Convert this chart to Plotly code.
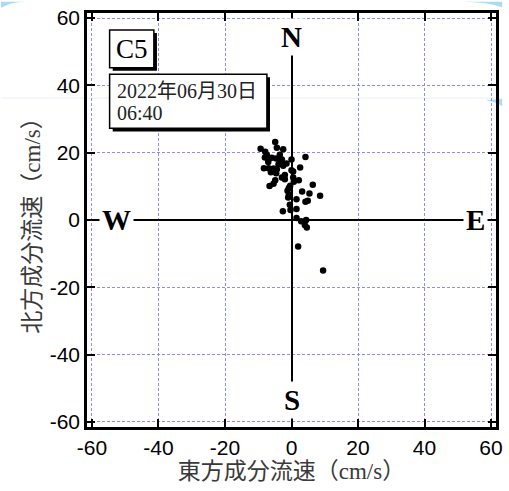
import plotly.graph_objects as go

# Current-vector components at station C5 (cm/s)
east = [-4.9, -4.4, -2.5, -9.3, -7.9, -7.4, -6.9, -5.9, -4.6, -2.9, 0.0, 4.2,
        -3.9, -2.5, -8.3, -6.9, -5.4, -4.4, 2.6, 0.0, 0.5, -4.6, -2.9, -2.0,
        -2.0, -4.9, -5.4, -6.6, 0.5, 2.2, 0.7, 6.4, -0.8, -1.2, 3.2, 5.4,
        8.6, -0.8, -1.0, 1.5, 4.2, 4.9, -0.5, 1.5, -2.6, -0.3, 1.5, 2.9,
        4.4, 4.0, 4.6, 2.0, 9.5, -8.0, -7.0, -3.5, -1.5, -6.2, -3.2, -0.4]
north = [23.2, 21.5, 21.0, 21.2, 20.3, 19.3, 18.0, 18.5, 18.3, 18.0, 18.0, 18.7,
         16.6, 16.1, 15.4, 15.4, 15.3, 15.1, 15.6, 14.8, 14.4, 13.9, 12.6, 13.4,
         12.1, 11.8, 10.8, 10.1, 12.6, 11.8, 11.4, 10.5, 9.5, 8.7, 8.5, 7.9,
         7.2, 7.5, 6.7, 6.2, 5.4, 5.7, 4.5, 3.3, 2.6, 3.0, 0.6, -0.4,
         0.0, -1.5, -2.2, -7.9, -15.0, 18.6, 17.2, 19.4, 16.8, 14.2, 17.0, 10.2]

tick_vals = [-60, -40, -20, 0, 20, 40, 60]
tick_text = ["-60", "-40", "-20", "0", "20", "40", "60"]
axis_range = [-61.5, 61.5]

station = "C5"
date_line = "2022年06月30日"
time_line = "06:40"
x_title = "東方成分流速（cm/s）"
y_title = "北方成分流速（cm/s）"

serif = "Liberation Serif, Noto Sans CJK JP, serif"
sans = "Liberation Sans, Arial, sans-serif"
grid_color = "#8c8cff"
accent = "#a9dcf4"

fig = go.Figure()
fig.add_trace(go.Scatter(
    x=east, y=north, mode="markers",
    marker=dict(color="black", size=6.5),
    hoverinfo="skip", showlegend=False,
))

axis_common = dict(
    range=axis_range, tickvals=tick_vals, ticktext=tick_text,
    showgrid=True, gridcolor=grid_color, gridwidth=1, griddash="3px,2px",
    zeroline=True, zerolinecolor="black", zerolinewidth=2,
    showline=True, linecolor="black", linewidth=2.5, mirror="ticks",
    ticks="inside", ticklen=8, tickwidth=2, tickcolor="black",
    tickfont=dict(family=sans, size=21, color="black"),
    fixedrange=True,
)

fig.update_xaxes(**axis_common,
                 title=dict(text=x_title, standoff=2,
                            font=dict(family=serif, size=23, color="#3a3a3a")))
fig.update_yaxes(**axis_common,
                 title=dict(text=y_title, standoff=3,
                            font=dict(family=serif, size=23, color="#3a3a3a")))

# Compass labels sitting on the cross lines
compass = [("N", 0, 54.5), ("S", 0, -53.5), ("W", -52.5, 0), ("E", 55.3, 0)]
for txt, cx, cy in compass:
    fig.add_annotation(x=cx, y=cy, xref="x", yref="y", text=f"<b>{txt}</b>",
                       showarrow=False, bgcolor="white", borderpad=2,
                       font=dict(family=serif, size=29, color="black"))

# Framed labels with a drop shadow (paper coordinates)
shadow = 0.0075


def framed_box(x0, x1, y0, y1):
    fig.add_shape(type="rect", xref="paper", yref="paper",
                  x0=x0 + shadow, x1=x1 + shadow, y0=y0 - shadow, y1=y1 - shadow,
                  fillcolor="black", line=dict(width=0), layer="above")
    fig.add_shape(type="rect", xref="paper", yref="paper",
                  x0=x0, x1=x1, y0=y0, y1=y1,
                  fillcolor="white", line=dict(color="black", width=1.5), layer="above")


framed_box(0.0553, 0.1635, 0.868, 0.9592)
fig.add_annotation(x=0.1094, y=0.9136, xref="paper", yref="paper",
                   xanchor="center", yanchor="middle",
                   text=station, showarrow=False,
                   font=dict(family=serif, size=27, color="black"))

framed_box(0.0553, 0.4399, 0.7215, 0.8523)
fig.add_annotation(x=0.068, y=0.8127, xref="paper", yref="paper",
                   xanchor="left", yanchor="middle", text=date_line, showarrow=False,
                   font=dict(family=serif, size=20, color="#222222"))
fig.add_annotation(x=0.068, y=0.7575, xref="paper", yref="paper",
                   xanchor="left", yanchor="middle", text=time_line, showarrow=False,
                   font=dict(family=serif, size=20, color="#222222"))

# light page accents around the chart
fig.add_shape(type="line", xref="paper", yref="paper",
              x0=-0.21, x1=1.015, y0=0.7945, y1=0.7945,
              line=dict(color="#e9f0f7", width=1), layer="below")
fig.add_shape(type="path", xref="paper", yref="paper",
              path="M 0.92,1.027 Q 0.98,1.026 1.015,1.014 L 1.015,1.027 Z",
              fillcolor=accent, line=dict(width=0), layer="below")
fig.add_shape(type="path", xref="paper", yref="paper",
              path="M -0.21,1.012 Q -0.19,1.026 -0.15,1.027 L -0.21,1.027 Z",
              fillcolor=accent, line=dict(width=0), layer="below")
fig.add_shape(type="path", xref="paper", yref="paper",
              path="M 0.975,0.790 Q 1.0,0.785 1.015,0.775 L 1.015,0.792 Z",
              fillcolor=accent, line=dict(width=0), layer="below")

fig.update_layout(
    width=509, height=491,
    margin=dict(l=87, r=6, t=11, b=64),
    paper_bgcolor="white", plot_bgcolor="white",
    showlegend=False,
)

fig.write_html("out.html", config={"displayModeBar": False})
